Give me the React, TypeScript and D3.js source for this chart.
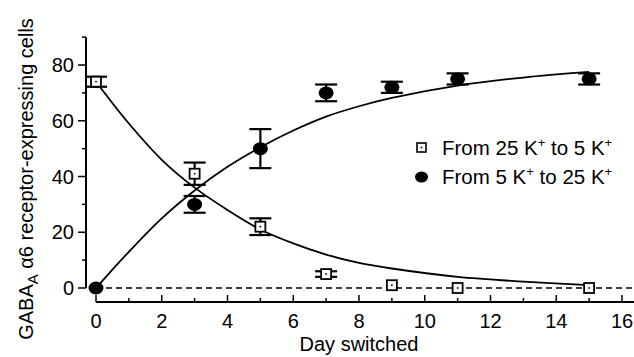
import React from 'react';
import * as d3 from 'd3';

// measured points (day switched) with error bars
const days = [0, 3, 5, 7, 9, 11, 15];
const downMean = [74, 41, 22, 5, 1, 0, 0];
const downErr = [1.8, 4, 3, 1, 0.5, 0.5, 0.5];
const upMean = [0, 30, 50, 70, 72, 75, 75];
const upErr = [0, 3, 7, 3, 2, 2, 2];

// fitted curves
const fitDays = [0, 1, 2, 3, 4, 5, 6, 7, 8, 9, 11, 13, 15];
const downFit = [74, 59, 46, 36, 28, 21, 16, 12, 9, 7, 4, 2.3, 1];
const upFit = [0, 13, 25, 35, 43.5, 50.5, 56.5, 61.5, 65.2, 68.2, 72.6, 75.5, 77.5];

const xTicks = [0, 2, 4, 6, 8, 10, 12, 14, 16];
const yTicks = [0, 20, 40, 60, 80];

const W = 634;
const H = 357;
const font = '"Liberation Sans", Arial, sans-serif';

export default function App() {
  const x = d3.scaleLinear().domain([0, 16]).range([96, 622]);
  const y = d3.scaleLinear().domain([0, 80]).range([288, 65]);
  const xAxisY = 302;
  const yAxisX = 86;

  const line = d3
    .line<number>()
    .x((d, i) => x(fitDays[i]))
    .y((d) => y(d))
    .curve(d3.curveCatmullRom);

  const minorX = d3.range(0, 18, 1);
  const minorY = d3.range(0, 100, 10);

  return (
    <svg
      width={W}
      height={H}
      style={{ position: 'absolute', left: 0, top: 0, background: '#fff' }}
      fontFamily={font}
    >
      {/* y axis */}
      <line x1={yAxisX} x2={yAxisX} y1={y(90)} y2={y(0)} stroke="#000" strokeWidth={2} />
      {minorY.map((v) => (
        <line
          key={'yt' + v}
          x1={yAxisX}
          x2={yAxisX - (v % 20 === 0 ? 8 : 4)}
          y1={y(v)}
          y2={y(v)}
          stroke="#000"
          strokeWidth={1.5}
        />
      ))}
      {yTicks.map((v) => (
        <text key={'yl' + v} x={yAxisX - 12} y={y(v)} dy="0.36em" textAnchor="end" fontSize={20}>
          {v}
        </text>
      ))}

      {/* x axis */}
      <line x1={x(0)} x2={W} y1={xAxisY} y2={xAxisY} stroke="#000" strokeWidth={2} />
      {minorX.map((v) => (
        <line
          key={'xt' + v}
          x1={x(v)}
          x2={x(v)}
          y1={xAxisY}
          y2={xAxisY - (v % 2 === 0 ? 7 : 4)}
          stroke="#000"
          strokeWidth={1.5}
        />
      ))}
      {xTicks.map((v) => (
        <text key={'xl' + v} x={x(v)} y={328} textAnchor="middle" fontSize={20}>
          {v}
        </text>
      ))}
      <text x={x(8)} y={351} textAnchor="middle" fontSize={20}>
        Day switched
      </text>
      <text transform={`translate(33,${(5 + 353) / 2}) rotate(-90)`} textAnchor="middle" fontSize={20}>
        GABA<tspan fontSize={15} dy={5}>A</tspan>
        <tspan dy={-5}> α6 receptor-expressing cells</tspan>
      </text>

      {/* zero line */}
      <line x1={x(0)} x2={W} y1={y(0)} y2={y(0)} stroke="#000" strokeWidth={1.5} strokeDasharray="6,4" />

      {/* fitted curves */}
      <path d={line(downFit) || ''} fill="none" stroke="#000" strokeWidth={1.8} />
      <path d={line(upFit) || ''} fill="none" stroke="#000" strokeWidth={1.8} />

      {/* error bars */}
      {days.map((d, i) => (
        <g key={'e' + i} stroke="#000" strokeWidth={2.2}>
          {downErr[i] > 0.6 && (
            <>
              <line x1={x(d)} x2={x(d)} y1={y(downMean[i] - downErr[i])} y2={y(downMean[i] + downErr[i])} />
              <line x1={x(d) - 11} x2={x(d) + 11} y1={y(downMean[i] - downErr[i])} y2={y(downMean[i] - downErr[i])} />
              <line x1={x(d) - 11} x2={x(d) + 11} y1={y(downMean[i] + downErr[i])} y2={y(downMean[i] + downErr[i])} />
            </>
          )}
          {upErr[i] > 0 && (
            <>
              <line x1={x(d)} x2={x(d)} y1={y(upMean[i] - upErr[i])} y2={y(upMean[i] + upErr[i])} />
              <line x1={x(d) - 11} x2={x(d) + 11} y1={y(upMean[i] - upErr[i])} y2={y(upMean[i] - upErr[i])} />
              <line x1={x(d) - 11} x2={x(d) + 11} y1={y(upMean[i] + upErr[i])} y2={y(upMean[i] + upErr[i])} />
            </>
          )}
        </g>
      ))}

      {/* markers */}
      {days.map((d, i) => (
        <g key={'m' + i}>
          <rect x={x(d) - 5} y={y(downMean[i]) - 5} width={10} height={10} fill="#fff" stroke="#000" strokeWidth={1.8} />
          <rect x={x(d) - 0.8} y={y(downMean[i]) - 0.8} width={1.6} height={1.6} fill="#000" />
          <ellipse cx={x(d)} cy={y(upMean[i])} rx={7.5} ry={6.5} fill="#000" />
        </g>
      ))}

      {/* legend */}
      <g fontSize={20.5}>
        <rect x={417} y={143} width={9} height={9} fill="#fff" stroke="#000" strokeWidth={1.6} />
        <rect x={420.7} y={146.7} width={1.6} height={1.6} fill="#000" />
        <text x={442} y={155}>
          From 25 K<tspan fontSize={13} dy={-8}>+</tspan>
          <tspan dy={8}> to 5 K</tspan>
          <tspan fontSize={13} dy={-8}>+</tspan>
        </text>
        <ellipse cx={421.5} cy={177} rx={6.5} ry={5.5} fill="#000" />
        <text x={442} y={184}>
          From 5 K<tspan fontSize={13} dy={-8}>+</tspan>
          <tspan dy={8}> to 25 K</tspan>
          <tspan fontSize={13} dy={-8}>+</tspan>
        </text>
      </g>
    </svg>
  );
}
